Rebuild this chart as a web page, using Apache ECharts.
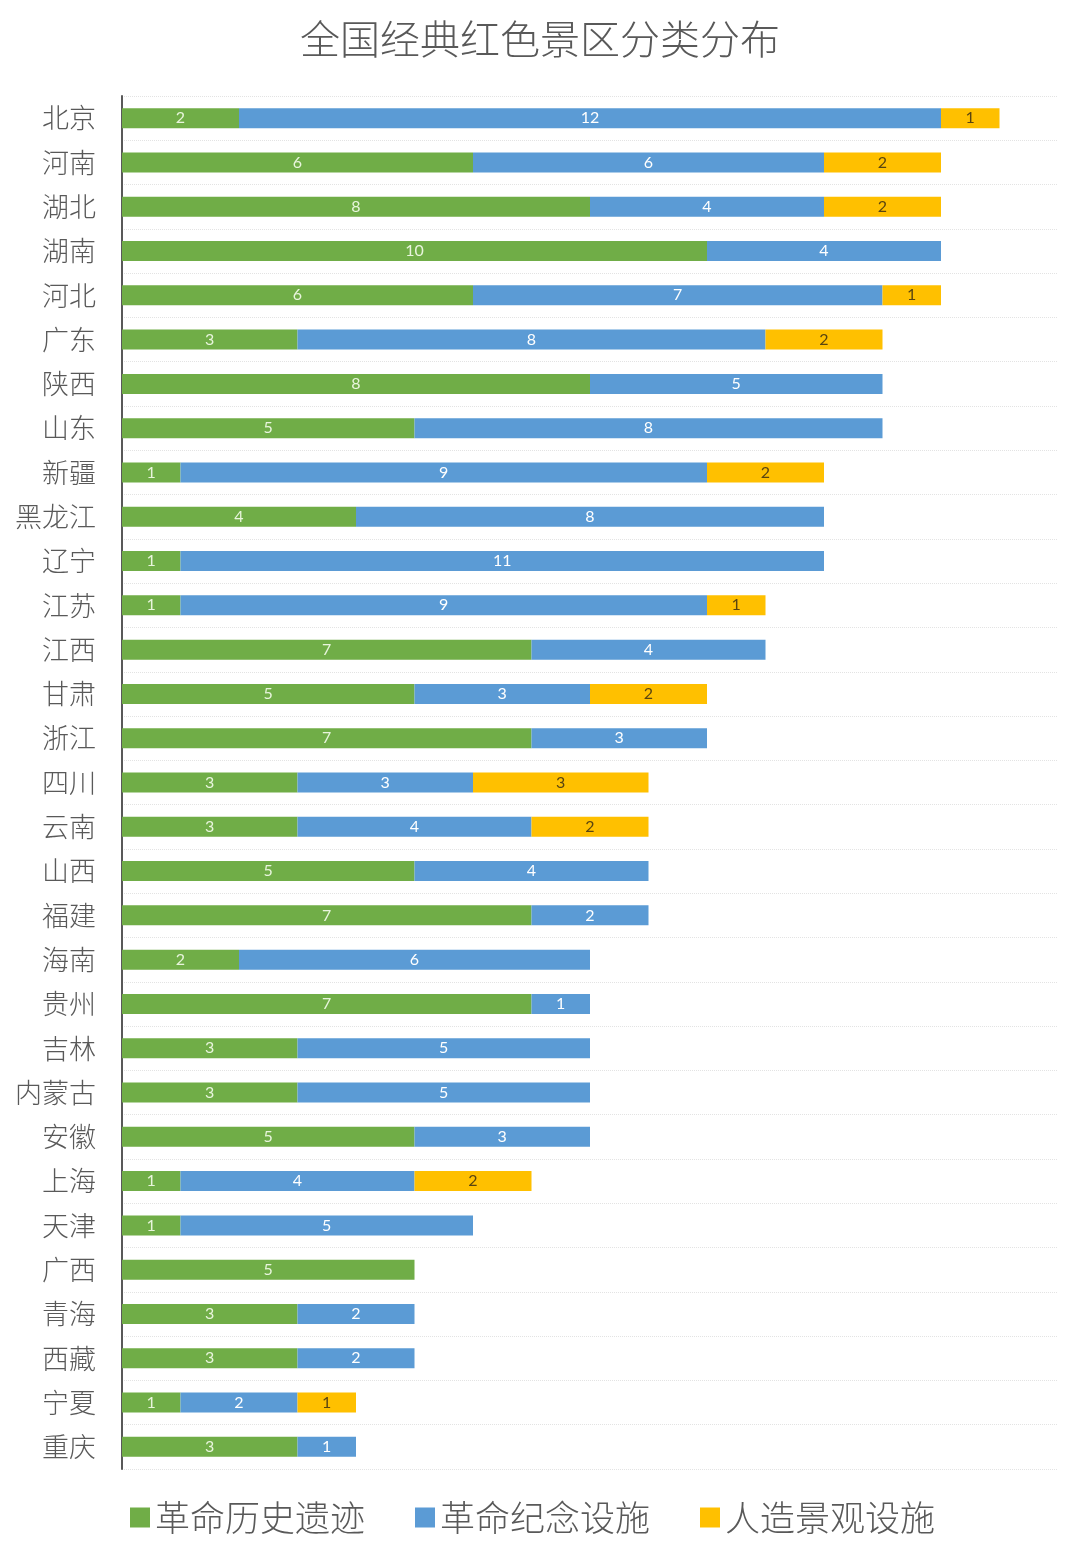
<!DOCTYPE html>
<html>
<head>
<meta charset="utf-8">
<title>全国经典红色景区分类分布</title>
<script src="https://cdn.jsdelivr.net/npm/echarts@6/dist/echarts.min.js"></script>
<style>
  html, body { margin: 0; padding: 0; background: #fff; }
  #chart { width: 1080px; height: 1560px; }
</style>
</head>
<body>
<div id="chart"></div>
<script>
const provinces = ["北京", "河南", "湖北", "湖南", "河北", "广东", "陕西", "山东", "新疆", "黑龙江", "辽宁",
    "江苏", "江西", "甘肃", "浙江", "四川", "云南", "山西", "福建", "海南", "贵州", "吉林", "内蒙古",
    "安徽", "上海", "天津", "广西", "青海", "西藏", "宁夏", "重庆"];
const historySites = [2, 6, 8, 10, 6, 3, 8, 5, 1, 4, 1, 1, 7, 5, 7, 3, 3, 5, 7, 2, 7, 3, 3, 5, 1, 1, 5, 3, 3, 1, 3];
const memorialSites = [12, 6, 4, 4, 7, 8, 5, 8, 9, 8, 11, 9, 4, 3, 3, 3, 4, 4, 2, 6, 1, 5, 5, 3, 4, 5, null, 2, 2, 2, 1];
const landscapeSites = [1, 2, 2, null, 1, 2, null, null, 2, null, null, 1, null, 2, null, 3, 2, null, null, null, null, null, null, null, 2, null, null, null, null, 1, null];

const fontFamily = '"Noto Sans CJK SC", "Noto Sans", sans-serif';

// Helper for the three stacked series
function makeSeries(name, data, color, labelColor) {
    return {
        name: name,
        type: "bar",
        stack: "total",
        barWidth: 20,
        data: data,
        itemStyle: { color: color },
        label: {
            show: true,
            position: "inside",
            color: labelColor,
            fontSize: 16,
            fontFamily: "Lato, sans-serif"
        }
    };
}

const chart = echarts.init(document.getElementById("chart"));

chart.setOption({
    animation: false,
    backgroundColor: "#fff",
    title: {
        text: "全国经典红色景区分类分布",
        left: "center",
        top: 14,
        textStyle: { color: "#595959", fontSize: 40, fontWeight: 300, fontFamily: fontFamily }
    },
    legend: {
        left: 125,
        top: 1495,
        itemWidth: 20,
        itemHeight: 20,
        itemGap: 50,
        icon: "rect",
        textStyle: { color: "#595959", fontSize: 35, fontWeight: 300, fontFamily: fontFamily }
    },
    grid: { left: 122, right: 22, top: 96, bottom: 91 },
    xAxis: {
        type: "value",
        min: 0,
        max: 16,
        interval: 16,
        axisLine: { show: false },
        axisTick: { show: false },
        axisLabel: { show: false },
        splitLine: { show: false }
    },
    yAxis: {
        type: "category",
        inverse: true,
        data: provinces,
        axisLine: { show: true, lineStyle: { color: "#595959", width: 2 } },
        axisTick: { show: false },
        axisLabel: {
            color: "#595959",
            fontSize: 27,
            fontWeight: 300,
            fontFamily: fontFamily,
            margin: 26,
            interval: 0
        },
        splitLine: {
            show: true,
            interval: 0,
            lineStyle: { color: "#e3e3e3", type: "dotted", width: 1 }
        }
    },
    series: [
        makeSeries("革命历史遗迹", historySites, "#70ad47", "#e8f5dc"),
        makeSeries("革命纪念设施", memorialSites, "#5b9bd5", "#ffffff"),
        makeSeries("人造景观设施", landscapeSites, "#ffc000", "#5a4510")
    ]
});
</script>
</body>
</html>
